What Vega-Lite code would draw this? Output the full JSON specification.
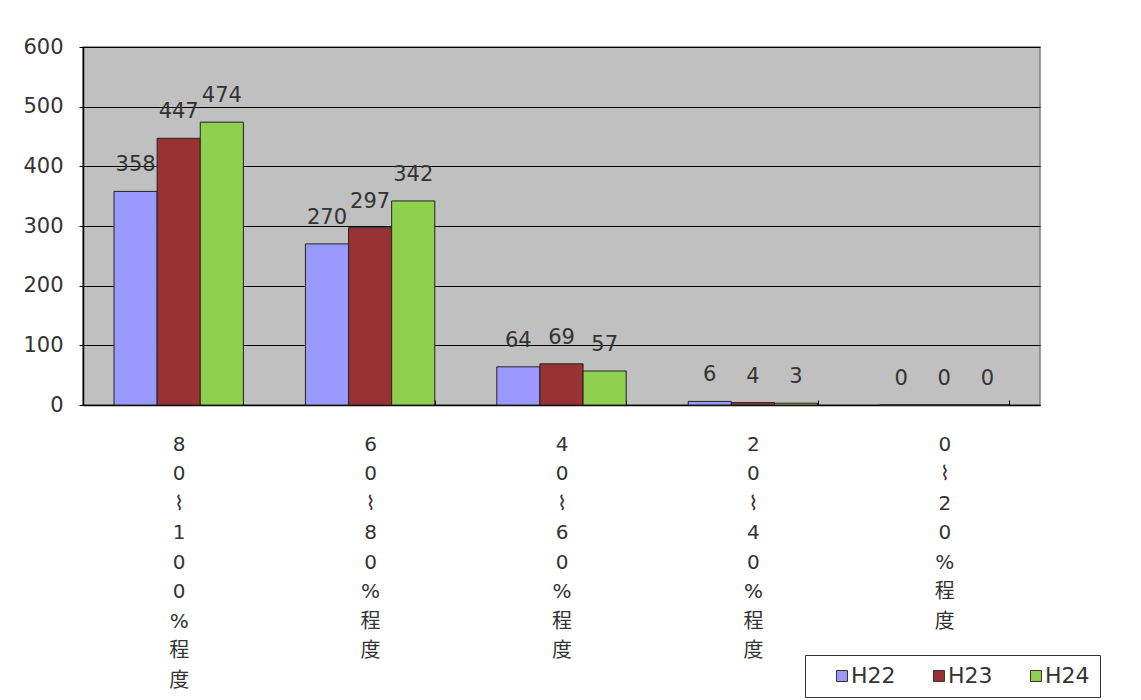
{
  "$schema": "https://vega.github.io/schema/vega-lite/v6.json",
  "width": 957,
  "height": 358,
  "autosize": {"type": "none"},
  "padding": {"left": 83, "top": 47, "right": 101, "bottom": 295},
  "background": "white",
  "config": {
    "font": "DejaVu Sans, Noto Sans CJK JP",
    "view": {"fill": "#C0C0C0", "stroke": "#7F7F7F", "strokeWidth": 1.5}
  },
  "data": {
    "values": [
      {"cat": "80～100%程度", "year": "H22", "value": 358},
      {"cat": "80～100%程度", "year": "H23", "value": 447},
      {"cat": "80～100%程度", "year": "H24", "value": 474},
      {"cat": "60～80%程度", "year": "H22", "value": 270},
      {"cat": "60～80%程度", "year": "H23", "value": 297},
      {"cat": "60～80%程度", "year": "H24", "value": 342},
      {"cat": "40～60%程度", "year": "H22", "value": 64},
      {"cat": "40～60%程度", "year": "H23", "value": 69},
      {"cat": "40～60%程度", "year": "H24", "value": 57},
      {"cat": "20～40%程度", "year": "H22", "value": 6},
      {"cat": "20～40%程度", "year": "H23", "value": 4},
      {"cat": "20～40%程度", "year": "H24", "value": 3},
      {"cat": "0～20%程度", "year": "H22", "value": 0},
      {"cat": "0～20%程度", "year": "H23", "value": 0},
      {"cat": "0～20%程度", "year": "H24", "value": 0}
    ]
  },
  "encoding": {
    "x": {
      "field": "cat",
      "type": "nominal",
      "sort": ["80～100%程度", "60～80%程度", "40～60%程度", "20～40%程度", "0～20%程度"],
      "scale": {"paddingInner": 0.324, "paddingOuter": 0.162},
      "axis": {
        "title": null,
        "labelAngle": 0,
        "labelExpr": "split(replace(datum.label, '～', '⌇'), '')",
        "labelBaseline": "top",
        "labelLineHeight": 29.5,
        "labelFontSize": 20,
        "labelColor": "#333333",
        "labelPadding": 34,
        "tickBand": "extent",
        "tickSize": -5,
        "tickColor": "#000000",
        "domainColor": "#000000",
        "domainWidth": 1.5
      }
    },
    "xOffset": {"field": "year", "type": "nominal", "sort": ["H22", "H23", "H24"]},
    "y": {
      "field": "value",
      "type": "quantitative",
      "scale": {"domain": [0, 600]},
      "axis": {
        "title": null,
        "values": [0, 100, 200, 300, 400, 500, 600],
        "labelFontSize": 21,
        "labelColor": "#333333",
        "labelPadding": 16,
        "tickSize": 4,
        "tickColor": "#000000",
        "domainColor": "#000000",
        "domainWidth": 1.5,
        "gridColor": "#000000",
        "gridWidth": 1,
        "gridOpacity": 1
      }
    }
  },
  "layer": [
    {
      "mark": {"type": "bar", "stroke": "#222222", "strokeWidth": 1},
      "encoding": {
        "color": {
          "field": "year",
          "type": "nominal",
          "scale": {"domain": ["H22", "H23", "H24"], "range": ["#9999FF", "#993333", "#8FD14F"]},
          "legend": {
            "orient": "none",
            "legendX": 722,
            "legendY": 608,
            "direction": "horizontal",
            "title": null,
            "strokeColor": "#333333",
            "fillColor": "white",
            "padding": 10,
            "symbolType": "square",
            "symbolSize": 120,
            "symbolStrokeColor": "#333333",
            "symbolStrokeWidth": 1,
            "symbolOffset": 16,
            "labelFontSize": 22,
            "labelColor": "#333333",
            "labelOffset": -2,
            "columnPadding": 16
          }
        }
      }
    },
    {
      "mark": {"type": "text", "baseline": "middle", "dy": -26, "fontSize": 21, "fill": "#333333"},
      "encoding": {"text": {"field": "value", "type": "quantitative"}}
    }
  ]
}
